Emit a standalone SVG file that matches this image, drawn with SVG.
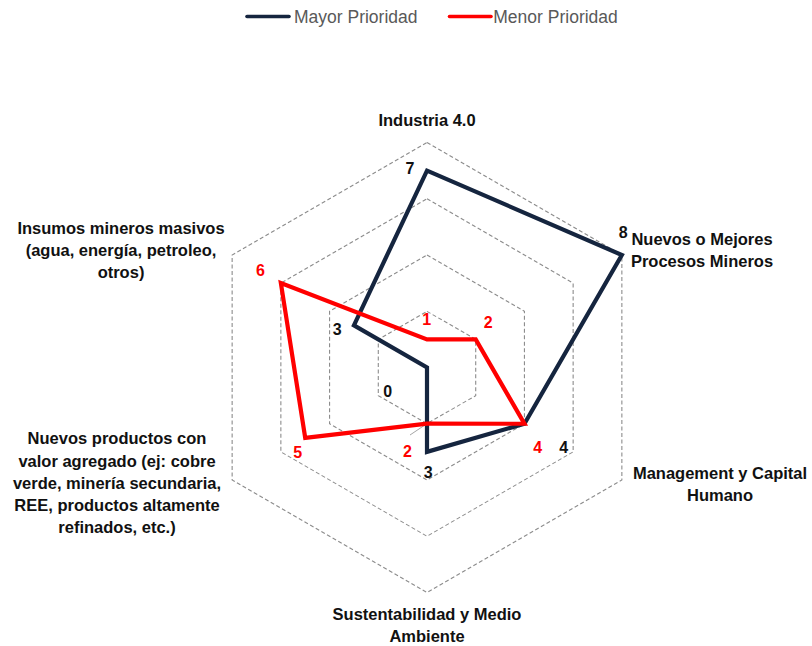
<svg xmlns="http://www.w3.org/2000/svg" width="812" height="646" viewBox="0 0 812 646">
<style>
.grid{fill:none;stroke:#8c8c8c;stroke-width:1.1;stroke-dasharray:4 2.5}
.navy{fill:none;stroke:#15253f;stroke-width:4.2;stroke-linejoin:miter}
.red{fill:none;stroke:#ff0000;stroke-width:4.2;stroke-linejoin:miter}
.cat{font-family:"Liberation Sans",Arial,sans-serif;font-weight:bold;font-size:16.5px;fill:#111;text-anchor:middle}
.dl{font-family:"Liberation Sans",Arial,sans-serif;font-weight:bold;font-size:16px;text-anchor:middle}
.dn{fill:#111}
.dr{fill:#ff0000}
.leg{font-family:"Liberation Sans",Arial,sans-serif;font-size:17.5px;fill:#595959}
</style>
<rect width="812" height="646" fill="#ffffff"/>
<g id="grid">
<polygon class="grid" points="427,311.375 475.71,339.375 475.71,395.625 427,423.625 378.29,395.625 378.29,339.375"/>
<polygon class="grid" points="427,255 524.43,311.25 524.43,423.75 427,480 329.57,423.75 329.57,311.25"/>
<polygon class="grid" points="427,198.75 573.14,283.125 573.14,451.875 427,536.25 280.86,451.875 280.86,283.125"/>
<polygon class="grid" points="427,142.5 621.86,255 621.86,480 427,592.5 232.14,480 232.14,255"/>
</g>
<g id="connectors">
<line x1="410" y1="435" x2="427" y2="423.6" stroke="#a6a6a6" stroke-width="1"/>
<polygon id="series-mayor" class="navy" points="427,170.625 621.86,255 524.43,423.75 427,451.875 427,367.5 353.93,325.31"/>
<polygon id="series-menor" class="red" points="427,339.375 475.71,339.375 524.43,423.75 427,423.625 305.22,437.81 280.86,283.125"/>
</g>
<g id="cat-industria"><text class="cat" x="427" y="126">Industria 4.0</text></g>
<g id="cat-procesos"><text class="cat" x="702" y="244.5">Nuevos o Mejores</text><text class="cat" x="702" y="267">Procesos Mineros</text></g>
<g id="cat-management"><text class="cat" x="720" y="478.5">Management y Capital</text><text class="cat" x="720" y="501">Humano</text></g>
<g id="cat-sustentabilidad"><text class="cat" x="427" y="620">Sustentabilidad y Medio</text><text class="cat" x="427" y="641.5">Ambiente</text></g>
<g id="cat-productos"><text class="cat" x="117" y="444">Nuevos productos con</text><text class="cat" x="117" y="466.5">valor agregado (ej: cobre</text><text class="cat" x="117" y="488.5">verde, minería secundaria,</text><text class="cat" x="117" y="511">REE, productos altamente</text><text class="cat" x="117" y="533">refinados, etc.)</text></g>
<g id="cat-insumos"><text class="cat" x="121" y="234">Insumos mineros masivos</text><text class="cat" x="121" y="256">(agua, energía, petroleo,</text><text class="cat" x="121" y="278">otros)</text></g>
<g id="data-labels">
<text class="dl dn" x="410" y="173.5">7</text>
<text class="dl dn" x="623.3" y="238.3">8</text>
<text class="dl dn" x="563.7" y="453.3">4</text>
<text class="dl dn" x="428.3" y="478.3">3</text>
<text class="dl dn" x="387.7" y="397.3">0</text>
<text class="dl dn" x="337.3" y="335">3</text>
<text class="dl dr" x="426.7" y="325">1</text>
<text class="dl dr" x="488.3" y="327.7">2</text>
<text class="dl dr" x="537.8" y="453.3">4</text>
<text class="dl dr" x="407.5" y="456.7">2</text>
<text class="dl dr" x="297.6" y="458.3">5</text>
<text class="dl dr" x="260.5" y="275.8">6</text>
</g>
<g id="legend">
<line x1="247" y1="16.5" x2="289" y2="16.5" stroke="#15253f" stroke-width="3.6" stroke-linecap="round"/>
<text class="leg" x="294" y="23.3">Mayor Prioridad</text>
<line x1="449.5" y1="16.5" x2="491" y2="16.5" stroke="#ff0000" stroke-width="3.6" stroke-linecap="round"/>
<text class="leg" x="493.3" y="23.3">Menor Prioridad</text>
</g>
</svg>
